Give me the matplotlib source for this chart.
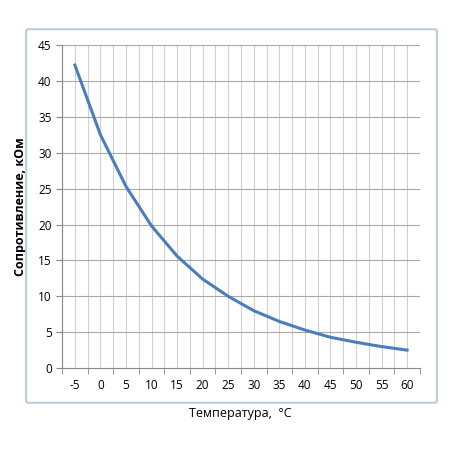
import matplotlib
matplotlib.use("Agg")
import matplotlib.pyplot as plt
from matplotlib.patches import FancyBboxPatch
import numpy as np

temps = ["-5","0","5","10","15","20","25","30","35","40","45","50","55","60"]
resist = [42.2,32.5,25.3,19.8,15.6,12.4,10.0,8.0,6.5,5.3,4.3,3.6,3.0,2.5]

plt.rcParams['font.family'] = ['Open Sans', 'DejaVu Sans']
fig = plt.figure(figsize=(4.5,4.5), dpi=100)
fig.patches.append(FancyBboxPatch((0.058,0.105),0.913,0.83, boxstyle="round,pad=0,rounding_size=0.005",
    transform=fig.transFigure, fill=False, edgecolor="#b8cfd8", linewidth=1.5, figure=fig))
ax = fig.add_axes([0.138,0.182,0.795,0.718])
n = len(temps)
x = np.arange(n)
ax.set_xlim(-0.5, n-0.5)
ax.set_ylim(0,45)
for v in np.arange(-0.5, n, 0.5):
    ax.axvline(v, color="#d0d0d0", lw=0.8, zorder=0)
for v in range(5,50,5):
    ax.axhline(v, color="#a8a8a8", lw=0.8, zorder=0)
ax.plot(x, resist, color="#4a7ebb", lw=2.2)
ax.set_xticks(x)
ax.set_xticklabels(temps, fontsize=8.5)
ax.set_xticks(np.arange(-0.5,n,1), minor=True)
ax.tick_params(axis='x', which='major', length=0, pad=8)
ax.tick_params(axis='x', which='minor', length=4, color="#888888")
ax.set_yticks(range(0,50,5))
ax.tick_params(axis='y', labelsize=8.5, length=4, color="#888888")
for s in ["top","right"]:
    ax.spines[s].set_visible(False)
ax.spines["left"].set_color("#888888")
ax.spines["bottom"].set_color("#888888")
ax.set_ylabel("Сопротивление, кОм", fontsize=9, fontweight="bold", labelpad=8)
fig.text(0.535, 0.082, "Температура,  °C", ha="center", va="center", fontsize=9)
fig.savefig("out.png")
